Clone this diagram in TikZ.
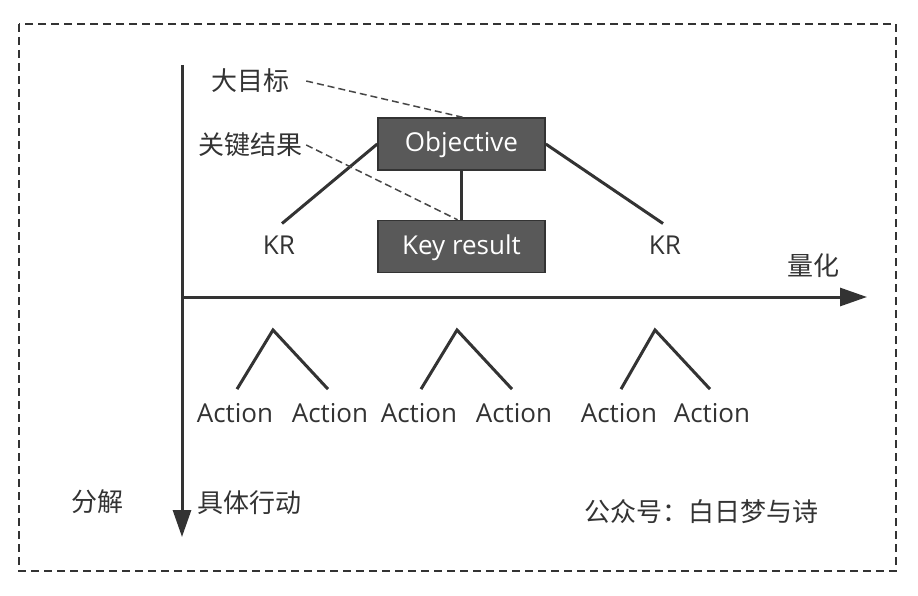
\documentclass[tikz,border=0pt]{standalone}
\usepackage{fontspec}
\setmainfont{Open Sans}
\newfontfamily\cjk{Noto Sans CJK SC}
\usetikzlibrary{arrows.meta}
\definecolor{boxgray}{HTML}{595959}
\definecolor{linegray}{HTML}{333333}
\begin{document}
\begin{tikzpicture}[x=1pt,y=-1pt,
  box/.style={draw=linegray,line width=1.5pt,fill=boxgray,text=white,minimum width=167pt,minimum height=52pt,inner sep=0pt,text height=19pt,text depth=3pt,font=\fontsize{26}{30}\selectfont},
  lbl/.style={inner sep=0pt,text=linegray,font=\fontsize{26}{30}\selectfont},
  zh/.style={inner sep=0pt,text=linegray,font=\cjk\fontsize{26}{30}\selectfont},
  edge/.style={line width=3pt,draw=linegray},
  hint/.style={line width=1.5pt,draw=linegray!90,dash pattern=on 7pt off 4pt},
  axis/.style={line width=3pt,draw=linegray,-{Triangle[length=27pt,width=18pt]}}]
\useasboundingbox (0,0) rectangle (918,596);
\draw[linegray,line width=2pt,dash pattern=on 8pt off 5pt] (19,24) rectangle (896,571);

% axes
\coordinate (origin) at (182,297);
\coordinate (ytop) at (182,65);
\coordinate (ybot) at (182,537);
\coordinate (xend) at (867,297);
\draw[axis] (ytop) -- (ybot);
\draw[axis] (origin) -- (xend);

% objective and key results
\node[box] (obj) at (461.5,144) {Objective};
\node[box] (kr) at (461.5,246.5) {Key result};
\node[lbl] (krl) at (279,245) {KR};
\node[lbl] (krr) at (665,245) {KR};
\draw[edge] (obj.south) -- (kr.north);
\draw[edge] (obj.west) -- ([xshift=3pt,yshift=12pt]krl.north);
\draw[edge] (obj.east) -- ([xshift=-2pt,yshift=12pt]krr.north);

\node[zh] (goal) at (250,81) {大目标};
\node[zh] (keyres) at (250,145) {关键结果};
\draw[hint] ([xshift=17pt]goal.east) -- ([xshift=1pt]obj.north);
\draw[hint] ([xshift=4pt]keyres.east) -- ([xshift=-4pt]kr.north);

\node[zh] (quant) at (813,266) {量化};

% actions
\foreach \x/\n in {235/a1,330/a2,419/a3,514/a4,619/a5,712/a6}
  \node[lbl] (\n) at (\x,413) {Action};
\foreach \l/\r/\ax/\k in {a1/a2/273/1,a3/a4/457/2,a5/a6/655/3}{
  \coordinate (top\k) at (\ax,330);
  \draw[edge] ([xshift=2pt,yshift=14pt]\l.north) -- (top\k) -- ([xshift=-2pt,yshift=14pt]\r.north);
}

\node[zh] (split) at (97,502) {分解};
\node[zh,anchor=west] (deeds) at (197,503) {具体行动};
\node[zh] (account) at (701,512) {公众号：白日梦与诗};
\end{tikzpicture}
\end{document}
